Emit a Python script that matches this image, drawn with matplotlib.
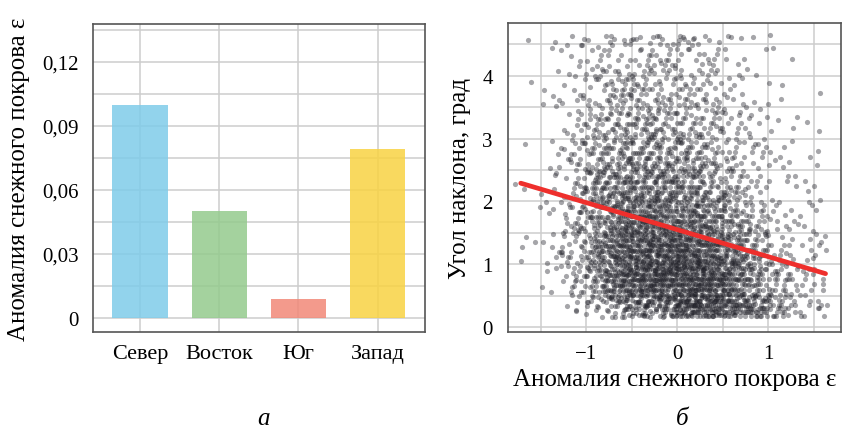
import numpy as np
import matplotlib
matplotlib.use('Agg')
import matplotlib.pyplot as plt
from matplotlib.ticker import FuncFormatter, MultipleLocator

plt.rcParams['font.family'] = ['Liberation Serif', 'DejaVu Serif']

# panel a: mean snow cover anomaly by slope exposure
categories = ['Север', 'Восток', 'Юг', 'Запад']
anomaly = [0.100, 0.050, 0.009, 0.079]
bar_colors = ['#7fcce9', '#94cb8d', '#f18878', '#f9d343']

# panel b: estimated point counts per cell (rows from bottom to top)
x_edges = [-1.75, -1.5, -1.25, -1.0, -0.75, -0.5, -0.25, 0.0, 0.25, 0.5, 0.75, 1.0, 1.25, 1.5, 1.75]
y_edges = [0.15, 0.5, 1.0, 1.5, 2.0, 2.5, 3.0, 3.5, 4.0, 4.5, 4.65]
cell_counts = [
    [0, 0, 4, 12, 25, 35, 45, 60, 70, 60, 40, 25, 12, 4],
    [1, 4, 18, 50, 100, 115, 120, 120, 115, 85, 50, 25, 12, 6],
    [3, 6, 22, 55, 90, 100, 105, 100, 85, 60, 32, 14, 8, 4],
    [1, 4, 20, 48, 70, 80, 80, 75, 60, 40, 20, 8, 6, 3],
    [2, 3, 18, 40, 55, 58, 58, 50, 40, 25, 12, 6, 4, 2],
    [1, 3, 14, 32, 40, 42, 40, 34, 26, 16, 8, 4, 4, 1],
    [0, 2, 10, 24, 30, 30, 30, 26, 20, 12, 6, 2, 3, 0],
    [0, 2, 8, 16, 22, 24, 22, 18, 14, 8, 4, 2, 0, 1],
    [1, 3, 6, 12, 16, 16, 16, 15, 12, 6, 4, 3, 0, 0],
    [1, 1, 2, 3, 3, 4, 4, 4, 4, 2, 0, 1, 0, 0],
]

# regression line
fit_slope = -0.43
fit_intercept = 1.55
fit_x_range = [-1.72, 1.63]

# spread the points of each cell around its centre with a tent shape,
# so neighbouring cells blend smoothly (deterministic low-discrepancy sequence)
g = 1.1673039782614187
steps = [1 / g, 1 / g ** 2, 1 / g ** 3, 1 / g ** 4]
pts_x = []
pts_y = []
for i, row in enumerate(cell_counts):
    for j, n in enumerate(row):
        if n == 0:
            continue
        k = np.arange(1, n + 1)
        c = (i * len(row) + j) * 0.3819660113
        a1, a2, b1, b2 = [(c * (m + 1) + k * s) % 1 for m, s in enumerate(steps)]
        w = x_edges[j + 1] - x_edges[j]
        h = y_edges[i + 1] - y_edges[i]
        xs = (x_edges[j] + x_edges[j + 1]) / 2 + (a1 + a2 - 1) * w
        ys = (y_edges[i] + y_edges[i + 1]) / 2 + (b1 + b2 - 1) * h
        # keep the outer edges of the cloud
        ys = np.where(ys < y_edges[0], 2 * y_edges[0] - ys, ys)
        ys = np.where(ys > y_edges[-1], 2 * y_edges[-1] - ys, ys)
        xs = np.where(xs > x_edges[-1] - 0.1, 2 * (x_edges[-1] - 0.1) - xs, xs)
        pts_x.extend(xs)
        pts_y.extend(ys)
pts_x = np.array(pts_x)
pts_y = np.array(pts_y)

fig = plt.figure(figsize=(8.45, 4.31), dpi=100)
ax1 = fig.add_axes([93 / 845, 98 / 431, 332 / 845, 308 / 431])
ax2 = fig.add_axes([508 / 845, 98 / 431, 333 / 845, 309 / 431])

grid_color = '#cdcdcd'
spine_color = '#555555'

# --- panel a
pos = np.arange(len(categories))
ax1.set_axisbelow(True)
ax1.bar(pos, anomaly, width=0.7, color=bar_colors, alpha=0.85)
ax1.set_xlim(-0.595, 3.6)
ax1.set_ylim(-0.0066, 0.1378)
ax1.set_xticks(pos)
ax1.set_xticklabels(categories, fontsize=16)
ax1.yaxis.set_major_locator(MultipleLocator(0.03))
ax1.yaxis.set_minor_locator(MultipleLocator(0.015))
ax1.yaxis.set_major_formatter(FuncFormatter(lambda v, p: '0' if abs(v) < 1e-9 else f'{v:.2f}'.replace('.', ',')))
ax1.tick_params(axis='y', which='both', length=0, labelsize=15, pad=10)
ax1.tick_params(axis='x', length=0, pad=9)
ax1.grid(True, which='both', color=grid_color, linewidth=1.1)
ax1.set_ylabel('Аномалия снежного покрова ε', fontsize=18, labelpad=9)

# --- panel b
ax2.set_axisbelow(True)
ax2.scatter(pts_x, pts_y, s=14, color='#202028', alpha=0.4, linewidths=0)
line_x = np.array(fit_x_range)
ax2.plot(line_x, fit_intercept + fit_slope * line_x, color='#ee2f2c', linewidth=3.4, solid_capstyle='round')
ax2.set_xlim(-1.86, 1.80)
ax2.set_ylim(-0.08, 4.84)
ax2.set_xticks([-1, 0, 1])
ax2.set_yticks([0, 1, 2, 3, 4])
ax2.xaxis.set_minor_locator(MultipleLocator(0.5))
ax2.yaxis.set_minor_locator(MultipleLocator(0.5))
ax2.tick_params(axis='both', which='both', length=0, labelsize=15)
ax2.tick_params(axis='y', pad=11)
ax2.tick_params(axis='x', pad=9)
ax2.grid(True, which='both', color=grid_color, linewidth=1.1)
ax2.set_xlabel('Аномалия снежного покрова ε', fontsize=18, labelpad=3)
ax2.set_ylabel('Угол наклона, град', fontsize=18, labelpad=8)

for ax in [ax1, ax2]:
    for sp in ax.spines.values():
        sp.set_color(spine_color)
        sp.set_linewidth(1.2)

fig.text(264 / 845, 6 / 431, 'а', fontsize=18, style='italic', ha='center', va='baseline')
fig.text(682 / 845, 6 / 431, 'б', fontsize=18, style='italic', ha='center', va='baseline')

fig.savefig('out.png', dpi=100)
